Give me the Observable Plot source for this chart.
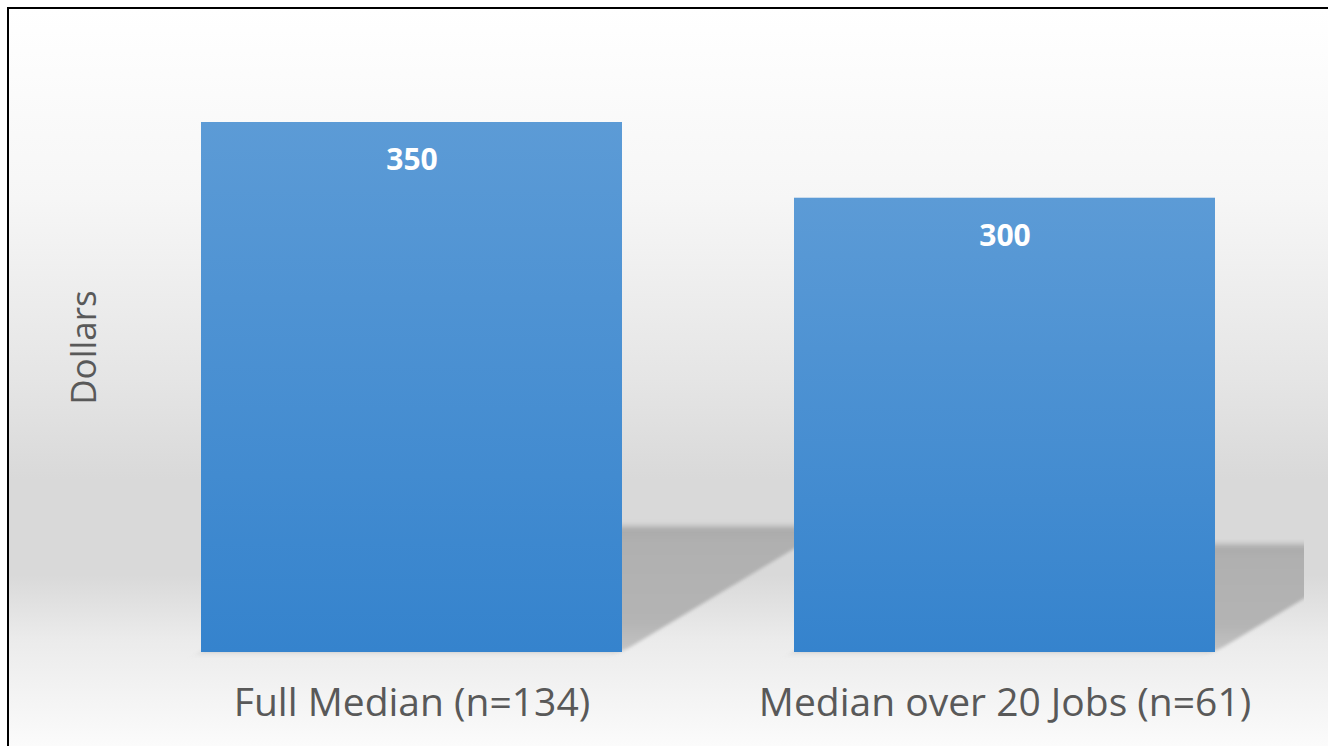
<!DOCTYPE html>
<html>
<head>
<meta charset="utf-8">
<script src="https://cdn.jsdelivr.net/npm/d3@7"></script>
<script src="https://cdn.jsdelivr.net/npm/@observablehq/plot@0.6"></script>
<style>
  html, body { margin: 0; padding: 0; background: #fff; overflow: hidden; }
  #wrap { position: relative; width: 1328px; height: 746px; overflow: hidden; }
  #bg {
    position: absolute; left: 7px; top: 7px; width: 1400px; height: 800px;
    border-left: 2px solid #000; border-top: 2px solid #000;
    background: linear-gradient(to bottom,
      #ffffff 0px, #f6f6f6 190px, #e5e5e5 370px, #d9d9d9 470px,
      #d9d9d9 566px, #ebebeb 630px, #fbfbfb 737px, #fdfdfd 800px);
  }
  #chart { position: absolute; left: 0; top: 0; }
</style>
</head>
<body>
<div id="wrap"><div id="bg"></div><div id="chart"></div></div>
<script>
const categories = ["Full Median (n=134)", "Median over 20 Jobs (n=61)"];
const values = [350, 300];
const yLabel = "Dollars";

const data = categories.map((c, i) => ({category: c, value: values[i]}));
const shadowRatio = 0.237;  // style: shadow height relative to bar
const shadowSlope = 0.6;    // style: shadow diagonal slope

const W = 1328, H = 746;
const mL = 113, mR = 24, mT = 122, mB = 94;

const plot = Plot.plot({
  width: W, height: H,
  marginLeft: mL, marginRight: mR, marginTop: mT, marginBottom: mB,
  style: {background: "transparent", fontFamily: "'Open Sans', sans-serif", overflow: "visible"},
  x: {domain: categories, paddingInner: 0.29, paddingOuter: 0.148, label: null},
  y: {domain: [0, d3.max(values)], axis: null},
  marks: [
    Plot.barY(data, {x: "category", y: d => d.value * shadowRatio, fill: "url(#shadowGrad)"}),
    Plot.barY(data, {x: "category", y: "value", fill: "url(#barGrad)"}),
    Plot.text(data, {x: "category", y: "value", text: d => String(d.value), dy: 38,
      fill: "white", fontWeight: "bold", fontSize: 30, lineAnchor: "middle"}),
    Plot.axisX({tickSize: 0, tickPadding: 36, fontSize: 39, fill: "#595959", label: null}),
    Plot.text([yLabel], {frameAnchor: "left", textAnchor: "middle", rotate: -90, dx: -29, dy: -40,
      fontSize: 35, fill: "#595959"})
  ]
});

const ns = "http://www.w3.org/2000/svg";
const defs = document.createElementNS(ns, "defs");
defs.innerHTML = `
  <linearGradient id="barGrad" x1="0" y1="0" x2="0" y2="1">
    <stop offset="0" stop-color="#5c9bd6"/>
    <stop offset="1" stop-color="#3583cd"/>
  </linearGradient>
  <linearGradient id="shadowGrad" x1="0" y1="0" x2="0" y2="1">
    <stop offset="0" stop-color="#a9a9a9"/>
    <stop offset="0.12" stop-color="#b0b0b0"/>
    <stop offset="0.75" stop-color="#b4b4b4"/>
    <stop offset="1" stop-color="#c4c4c4"/>
  </linearGradient>
  <clipPath id="shadowClip"><rect x="${mL}" y="0" width="${W - mL - mR}" height="${H}"/></clipPath>`;
plot.insertBefore(defs, plot.firstChild);

// skew the shadow bars (first bar mark) into a cast-shadow parallelogram about the baseline
const y0 = plot.scale("y").apply(0);
const sh = plot.querySelectorAll('g[aria-label="bar"]')[0];
if (sh) {
  const clipG = document.createElementNS(ns, "g");
  const skewG = document.createElementNS(ns, "g");
  sh.parentNode.insertBefore(clipG, sh);
  clipG.appendChild(skewG);
  skewG.appendChild(sh);
  clipG.setAttribute("clip-path", "url(#shadowClip)");
  const ang = -Math.atan(1 / shadowSlope) * 180 / Math.PI;
  skewG.setAttribute("transform", `translate(0,${y0}) skewX(${ang}) translate(0,${-y0})`);
  skewG.style.filter = "blur(3px)";
}

document.getElementById("chart").appendChild(plot);
</script>
</body>
</html>
